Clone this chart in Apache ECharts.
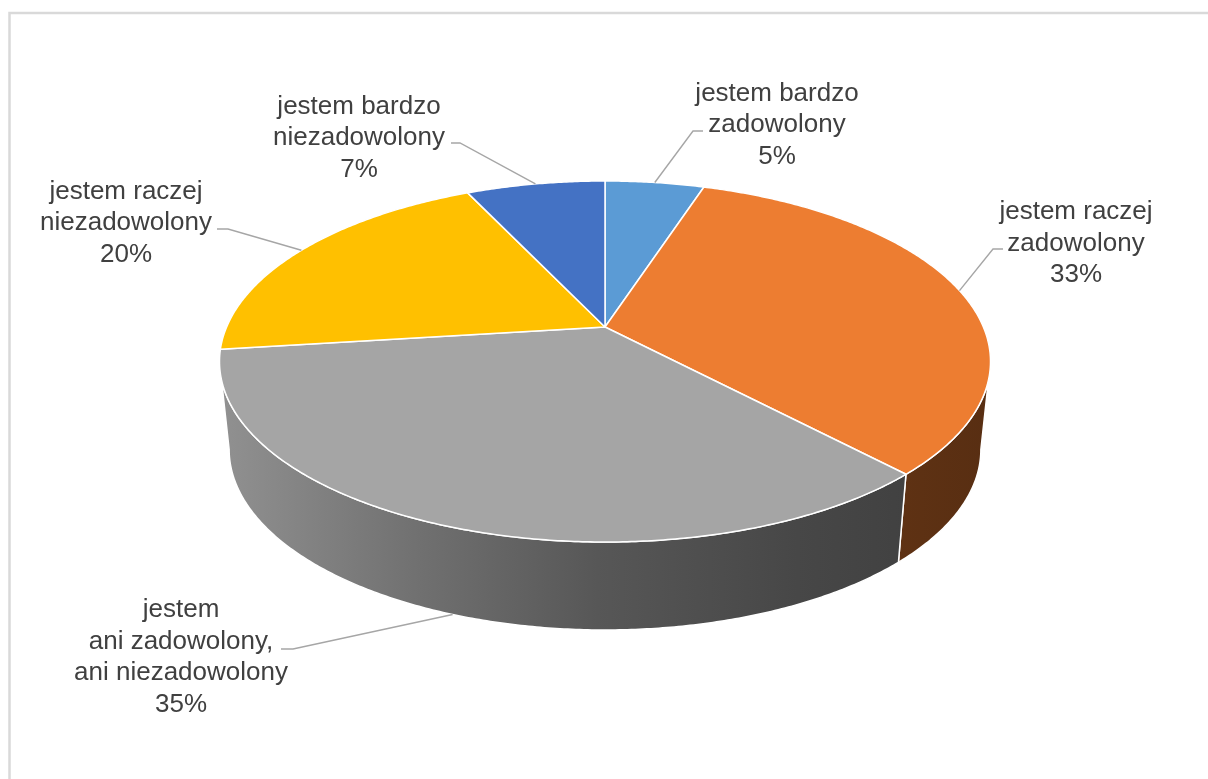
<!DOCTYPE html>
<html>
<head>
<meta charset="utf-8">
<script src="https://cdn.jsdelivr.net/npm/echarts@6/dist/echarts.min.js"></script>
<style>
  html, body { margin: 0; padding: 0; background: #fff; }
  #chart { width: 1208px; height: 779px; }
</style>
</head>
<body>
<div id="chart"></div>
<script>
// Survey answers: satisfaction levels and their shares (%)
const categories = [
  'jestem bardzo\nzadowolony',
  'jestem raczej\nzadowolony',
  'jestem\nani zadowolony,\nani niezadowolony',
  'jestem raczej\nniezadowolony',
  'jestem bardzo\nniezadowolony'
];
const values = [5, 33, 35, 20, 7];
const colors = ['#5B9BD5', '#ED7D31', '#A5A5A5', '#FFC000', '#4472C4'];

// Label blocks: [centerX, centerY, leaderStartX, leaderStartY, elbowX]
const labelLayout = [
  [777, 125, 703, 131, 693],
  [1076, 243.5, 1003, 249, 993],
  [181, 657.5, 281, 649, 293],
  [126, 223, 217, 229, 228],
  [359, 138, 451, 143, 460]
];

// Tilted disc geometry (perspective view of the pie top)
const geo = {
  cx: 605,        // horizontal centre
  apexY: 327,     // where the slices meet
  farY: 181,      // rim point furthest away
  nearY: 542,     // rim point closest to the viewer
  halfWidth: 385.5,
  depth: 88,      // thickness of the pie
  bottomScale: 0.975
};
const k = (2 * geo.apexY - geo.farY - geo.nearY) / (geo.farY - geo.nearY);
const b = geo.apexY - geo.farY - geo.farY * k;
const a = geo.halfWidth * Math.sqrt(1 - k * k);

function rim(phi) {
  const x = Math.sin(phi), y = Math.cos(phi), w = 1 + k * y;
  return [geo.cx + a * x / w, (geo.apexY - b * y) / w];
}
function rimBottom(phi) {
  const p = rim(phi);
  return [geo.cx + (p[0] - geo.cx) * geo.bottomScale, p[1] + geo.depth];
}
// front (visible) part of the side wall
const frontStart = Math.acos(-k);
const frontEnd = 2 * Math.PI - frontStart;

function shade(hex, f) {
  const n = parseInt(hex.slice(1), 16);
  const r = Math.round(((n >> 16) & 255) * f);
  const g = Math.round(((n >> 8) & 255) * f);
  const bl = Math.round((n & 255) * f);
  return 'rgb(' + r + ',' + g + ',' + bl + ')';
}
const sideShade = [[0, 0.88], [0.26, 0.68], [0.49, 0.53], [0.75, 0.43], [1, 0.37]];

const total = values.reduce((s, v) => s + v, 0);

function arcPoints(fn, from, to) {
  const pts = [];
  const steps = Math.max(2, Math.ceil((to - from) / (Math.PI / 360)));
  for (let j = 0; j <= steps; j++) pts.push(fn(from + (to - from) * j / steps));
  return pts;
}

function renderItem(params, api) {
  const i = params.dataIndex;
  const v = api.value(0);
  let before = 0;
  for (let j = 0; j < i; j++) before += values[j];
  const start = before / total * 2 * Math.PI;
  const end = start + v / total * 2 * Math.PI;
  const mid = (start + end) / 2;
  const children = [];

  // side wall
  const s0 = Math.max(start, frontStart), s1 = Math.min(end, frontEnd);
  if (s1 > s0) {
    const top = arcPoints(rim, s0, s1);
    const bot = arcPoints(rimBottom, s0, s1).reverse();
    children.push({
      type: 'polygon',
      z2: 1,
      shape: { points: top.concat(bot) },
      style: {
        fill: new echarts.graphic.LinearGradient(
          geo.cx - geo.halfWidth, 0, geo.cx + geo.halfWidth, 0,
          sideShade.map(s => ({ offset: s[0], color: shade(colors[i], s[1]) })), true),
        stroke: '#ffffff',
        lineWidth: 1.5,
        lineJoin: 'round'
      }
    });
  }

  // top face
  children.push({
    type: 'polygon',
    z2: 2,
    shape: { points: [[geo.cx, geo.apexY]].concat(arcPoints(rim, start, end)) },
    style: { fill: colors[i], stroke: '#ffffff', lineWidth: 1.5, lineJoin: 'round' }
  });

  // leader line and label
  const L = labelLayout[i];
  const anchor = (mid > frontStart && mid < frontEnd) ? rimBottom(mid) : rim(mid);
  children.push({
    type: 'polyline',
    z2: 3,
    shape: { points: [[L[2], L[3]], [L[4], L[3]], anchor] },
    style: { stroke: '#A6A6A6', lineWidth: 1.4, fill: null }
  });
  children.push({
    type: 'text',
    z2: 4,
    x: L[0],
    y: L[1],
    style: {
      text: categories[i] + '\n' + v + '%',
      fill: '#404040',
      fontSize: 26,
      fontFamily: '"Liberation Sans", Arial, sans-serif',
      lineHeight: 31.5,
      align: 'center',
      verticalAlign: 'middle'
    }
  });

  return { type: 'group', children: children };
}

const chart = echarts.init(document.getElementById('chart'), null, { renderer: 'canvas' });
chart.setOption({
  backgroundColor: '#ffffff',
  animation: false,
  graphic: [{
    type: 'rect',
    z: -1,
    shape: { x: 9.5, y: 13, width: 1400, height: 1000 },
    style: { fill: 'none', stroke: '#D9D9D9', lineWidth: 2.5 }
  }],
  series: [{
    type: 'custom',
    coordinateSystem: 'none',
    renderItem: renderItem,
    data: values.map(v => [v])
  }]
});
</script>
</body>
</html>
